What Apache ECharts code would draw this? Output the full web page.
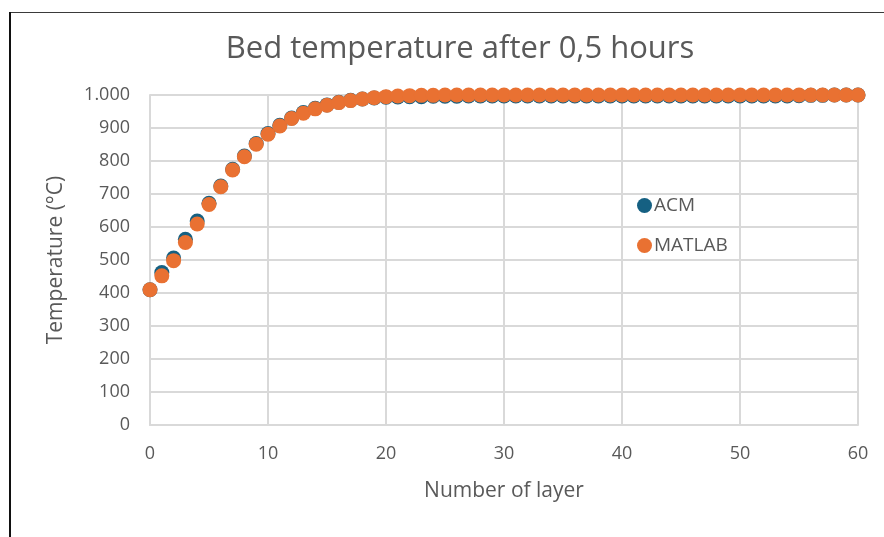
<!DOCTYPE html>
<html>
<head>
<meta charset="utf-8">
<script src="https://cdn.jsdelivr.net/npm/echarts@6/dist/echarts.min.js"></script>
<style>
  html, body { margin: 0; padding: 0; background: #ffffff; }
  #chart { width: 884px; height: 537px; }
</style>
</head>
<body>
<div id="chart"></div>
<script>
// Layer index along the bed (0 … 60)
const layers = [
  0, 1, 2, 3, 4, 5, 6, 7, 8, 9,
  10, 11, 12, 13, 14, 15, 16, 17, 18, 19,
  20, 21, 22, 23, 24, 25, 26, 27, 28, 29,
  30, 31, 32, 33, 34, 35, 36, 37, 38, 39,
  40, 41, 42, 43, 44, 45, 46, 47, 48, 49,
  50, 51, 52, 53, 54, 55, 56, 57, 58, 59, 60
];

// Bed temperature (°C) per layer, ACM model
const acmTemp = [
  410, 462, 506, 563, 618, 672, 724, 775, 815, 853,
  883, 908, 930, 947, 960, 970, 978, 984, 988, 991,
  993, 994, 995, 995, 996, 996, 996, 997, 997, 997,
  997, 997, 997, 997, 997, 997, 997, 997, 997, 997,
  997, 997, 997, 997, 997, 997, 997, 997, 997, 997,
  997, 997, 997, 997, 997, 998, 999, 999, 1000, 1000, 1000
];

// Bed temperature (°C) per layer, MATLAB model
const matlabTemp = [
  410, 452, 498, 553, 609, 668, 722, 773, 813, 851,
  881, 906, 929, 945, 958, 969, 977, 983, 988, 992,
  995, 997, 998, 999, 999, 1000, 1000, 1000, 1000, 1000,
  1000, 1000, 1000, 1000, 1000, 1000, 1000, 1000, 1000, 1000,
  1000, 1000, 1000, 1000, 1000, 1000, 1000, 1000, 1000, 1000,
  1000, 1000, 1000, 1000, 1000, 1000, 1000, 1000, 1000, 1000, 1000
];

const seriesNames = ['ACM', 'MATLAB'];
const titleText = 'Bed temperature after 0,5 hours';
const xAxisTitle = 'Number of layer';
const yAxisTitle = 'Temperature (°C)';

const pairs = (ys) => layers.map((x, i) => [x, ys[i]]);
const fontFamily = '"Open Sans", Roboto, sans-serif';
const textGray = '#595959';
const gridGray = '#d9d9d9';

const chart = echarts.init(document.getElementById('chart'), null, { renderer: 'canvas' });

chart.setOption({
  backgroundColor: '#ffffff',
  animation: false,
  textStyle: { fontFamily: fontFamily },
  title: {
    text: titleText,
    left: 455,
    top: 29,
    textAlign: 'center',
    textStyle: { fontFamily: fontFamily, fontSize: 31, fontWeight: 'normal', color: textGray }
  },
  legend: {
    orient: 'vertical',
    left: 632,
    top: 191,
    itemGap: 21,
    itemWidth: 15,
    itemHeight: 15,
    icon: 'circle',
    textStyle: { fontFamily: fontFamily, fontSize: 19, color: textGray, padding: [0, 0, 0, -3] },
    data: seriesNames
  },
  grid: { left: 150, right: 26, top: 95, bottom: 112, containLabel: false },
  xAxis: {
    type: 'value',
    min: 0,
    max: 60,
    interval: 10,
    name: xAxisTitle,
    nameLocation: 'middle',
    nameGap: 56,
    nameTextStyle: { fontFamily: fontFamily, fontSize: 21, color: textGray },
    axisLine: { show: true, lineStyle: { color: gridGray, width: 2 } },
    axisTick: { show: false },
    axisLabel: { margin: 20, fontFamily: fontFamily, fontSize: 18, color: textGray },
    splitLine: { show: true, lineStyle: { color: gridGray, width: 2 } }
  },
  yAxis: {
    type: 'value',
    min: 0,
    max: 1000,
    interval: 100,
    name: yAxisTitle,
    nameLocation: 'middle',
    nameGap: 83,
    nameRotate: 90,
    nameTextStyle: { fontFamily: fontFamily, fontSize: 21, color: textGray },
    axisLine: { show: true, lineStyle: { color: gridGray, width: 2 } },
    axisTick: { show: false },
    axisLabel: {
      margin: 20,
      fontFamily: fontFamily,
      fontSize: 18,
      color: textGray,
      formatter: (v) => v >= 1000 ? String(v).replace(/\B(?=(\d{3})+(?!\d))/g, '.') : String(v)
    },
    splitLine: { show: true, lineStyle: { color: gridGray, width: 2 } }
  },
  series: [
    {
      name: seriesNames[0],
      type: 'scatter',
      symbol: 'circle',
      symbolSize: 15,
      itemStyle: { color: '#156082', opacity: 1 },
      data: pairs(acmTemp),
      z: 2
    },
    {
      name: seriesNames[1],
      type: 'scatter',
      symbol: 'circle',
      symbolSize: 15,
      itemStyle: { color: '#e97132', opacity: 1 },
      data: pairs(matlabTemp),
      z: 3
    }
  ],
  graphic: [
    {
      type: 'line',
      shape: { x1: 9, y1: 12.5, x2: 884, y2: 12.5 },
      style: { stroke: '#3a3a3a', lineWidth: 1.2 },
      silent: true
    },
    {
      type: 'line',
      shape: { x1: 10, y1: 12, x2: 10, y2: 537 },
      style: { stroke: '#111111', lineWidth: 2 },
      silent: true
    }
  ]
});
</script>
</body>
</html>
